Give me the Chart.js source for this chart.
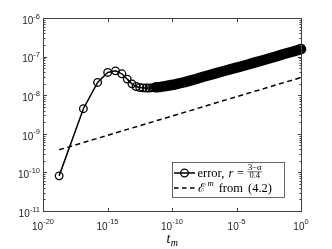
<!DOCTYPE html>
<html><head><meta charset="utf-8">
<script src="https://cdn.jsdelivr.net/npm/chart.js@4"></script>
<style>html,body{margin:0;padding:0;background:#fff}canvas{display:block}</style>
</head><body>
<div style="width:332px;height:249px"><canvas id="c" width="332" height="249"></canvas></div>
<script>
// time levels t_m
const tValues = [1.78e-19,1.35e-17,1.71e-16,1.03e-15,4.16e-15,1.30e-14,3.40e-14,7.83e-14,1.64e-13,3.16e-13,
  5.74e-13,9.89e-13,1.63e-12,2.59e-12,3.99e-12,5.97e-12,8.71e-12,1.24e-11,1.74e-11,2.40e-11,
  5.77e-11,1.24e-10,3.03e-10,7.96e-10,1.83e-9,7.40e-9,2.31e-8,6.05e-8,2.04e-7,5.62e-7,
  1.76e-6,7.10e-6,2.21e-5,7.76e-5,2.79e-4,9.79e-4,3.26e-3,1.32e-2,4.11e-2,0.108,0.248,0.518,1];
// error values
const errValues = [8.13e-11,4.47e-9,2.14e-8,3.89e-8,4.27e-8,3.59e-8,2.61e-8,1.97e-8,1.68e-8,1.585e-8,
  1.55e-8,1.53e-8,1.53e-8,1.55e-8,1.585e-8,1.60e-8,1.62e-8,1.64e-8,1.67e-8,1.70e-8,
  1.78e-8,1.86e-8,2.00e-8,2.14e-8,2.32e-8,2.63e-8,2.95e-8,3.24e-8,3.63e-8,3.98e-8,
  4.42e-8,5.01e-8,5.56e-8,6.24e-8,7.08e-8,7.94e-8,8.91e-8,1.02e-7,1.15e-7,1.26e-7,1.36e-7,1.46e-7,1.57e-7];
// bound E^m from (4.2)
const boundT = [1.78e-19,1e-15,1e-10,1e-5,1];
const boundE = [3.85e-10,9.12e-10,2.88e-9,9.12e-9,2.88e-8];
// tick exponents
const xTickExps = [-20,-15,-10,-5,0];
const yTickExps = [-11,-10,-9,-8,-7,-6];
const denseFrom = 15; // markers merge into a solid band from here on

const errPts = tValues.map((t,i)=>({x:t,y:errValues[i]}));
const bandPts = errPts.slice(denseFrom);
const boundPts = boundT.map((t,i)=>({x:t,y:boundE[i]}));

const SANS='"Liberation Sans", Arial, sans-serif';
const SERIF='"Liberation Serif", "DejaVu Serif", serif';

function pow10(ctx, exp, x, y, align, supDy){
  const es = String(exp);
  ctx.font='10px '+SANS; const w1=ctx.measureText('10').width;
  ctx.font='7.5px '+SANS; const w2=ctx.measureText(es).width;
  const tot=w1+w2;
  const x0 = align==='right' ? x-tot : x-tot/2;
  ctx.textAlign='left'; ctx.textBaseline='middle';
  ctx.font='10px '+SANS; ctx.fillText('10',x0,y);
  ctx.font='7.5px '+SANS; ctx.fillText(es,x0+w1,y+supDy);
}

const axesPlugin = {
  id:'axesPlugin',
  afterDraw(chart){
    const ctx=chart.ctx, a=chart.chartArea, xs=chart.scales.x, ys=chart.scales.y;
    const L=Math.floor(a.left)+0.5, R=Math.floor(a.right)+0.5, T=Math.floor(a.top)+0.5, B=Math.floor(a.bottom)+0.5;
    ctx.save();
    ctx.strokeStyle='#404040'; ctx.lineWidth=1;
    ctx.strokeRect(L,T,R-L,B-T);
    ctx.beginPath();
    for(let d=-11; d<=-6; d++){
      for(let k=1;k<=9;k++){
        if(d===-6 && k>1) break;
        const y=Math.round(ys.getPixelForValue(k*Math.pow(10,d)))+0.5;
        const len = k===1?3.5:2;
        ctx.moveTo(L,y); ctx.lineTo(L+len,y);
        ctx.moveTo(R,y); ctx.lineTo(R-len,y);
      }
    }
    xTickExps.forEach(e=>{
      const x=Math.round(xs.getPixelForValue(Math.pow(10,e)))+0.5;
      ctx.moveTo(x,B); ctx.lineTo(x,B-3.5);
      ctx.moveTo(x,T); ctx.lineTo(x,T+3.5);
    });
    ctx.stroke();
    ctx.fillStyle='#262626';
    yTickExps.forEach(e=>{
      const y=ys.getPixelForValue(Math.pow(10,e));
      pow10(ctx,e,40,y+3,'right',-4.5);
    });
    xTickExps.forEach(e=>{
      const x=xs.getPixelForValue(Math.pow(10,e));
      pow10(ctx,e,x,a.bottom+16,'center',-5.5);
    });
    ctx.fillStyle='#000';
    ctx.textBaseline='alphabetic'; ctx.textAlign='left';
    ctx.font='italic 14px '+SERIF; const wt=ctx.measureText('t').width;
    ctx.font='italic 10px '+SERIF; const wm=ctx.measureText('m').width;
    const cx=(a.left+a.right)/2, x0=cx-(wt+wm)/2;
    ctx.font='italic 14px '+SERIF; ctx.fillText('t',x0,243);
    ctx.font='italic 10px '+SERIF; ctx.fillText('m',x0+wt+0.5,246);
    drawLegend(ctx);
    ctx.restore();
  }
};

function legendRows(ctx, s, draw){
  const base1=176.5, base2=191.5, barY=171.5;
  let x=197.5;
  const put=(txt,font,dx,y)=>{ctx.font=font; if(draw) ctx.fillText(txt,x,y); x+=ctx.measureText(txt).width+dx;};
  put('error,', s+'px '+SERIF, 0.33*s, base1);
  put('r', 'italic '+s+'px '+SERIF, 0.28*s, base1);
  put('=', s+'px '+SERIF, 0.28*s, base1);
  ctx.font=(0.68*s)+'px '+SERIF;
  const fn=ctx.measureText('3\u2212\u03b1').width, fd=ctx.measureText('0.4').width, f=Math.max(fn,fd)+1;
  if(draw){
    ctx.fillText('3\u2212\u03b1',x+(f-fn)/2,barY-1.2);
    ctx.fillText('0.4',x+(f-fd)/2,barY+6);
    ctx.lineWidth=0.6; ctx.beginPath(); ctx.moveTo(x,barY+0.3); ctx.lineTo(x+f,barY+0.3); ctx.stroke();
  }
  const r1=x+f-197.5;
  x=197.5;
  put('\u2130', s+'px '+SERIF, 0.15*s, base2);
  put('m', 'italic '+(0.7*s)+'px '+SERIF, 0.4*s, base2-0.42*s);
  put('from', s+'px '+SERIF, 0.4*s, base2);
  put('(4.2)', s+'px '+SERIF, 0, base2);
  const r2=x-197.5;
  return Math.max(r1,r2);
}

function drawLegend(ctx){
  const bx=172.5, by=162.5, bw=112, bh=35;
  ctx.fillStyle='#fff'; ctx.fillRect(bx,by,bw,bh);
  ctx.strokeStyle='#404040'; ctx.lineWidth=0.8; ctx.strokeRect(bx,by,bw,bh);
  const y1=173, y2=188;
  ctx.strokeStyle='#000'; ctx.lineWidth=1.5; ctx.setLineDash([]);
  ctx.beginPath(); ctx.moveTo(174,y1); ctx.lineTo(195,y1); ctx.stroke();
  ctx.lineWidth=1.3; ctx.beginPath(); ctx.arc(184.5,y1,3.8,0,2*Math.PI); ctx.stroke();
  ctx.lineWidth=1.5; ctx.setLineDash([4.5,3.5]);
  ctx.beginPath(); ctx.moveTo(174,y2); ctx.lineTo(195,y2); ctx.stroke();
  ctx.setLineDash([]);
  const w=legendRows(ctx,10,false);
  const s=Math.min(12.5, 10*81/w);
  ctx.fillStyle='#000'; ctx.strokeStyle='#000'; ctx.textAlign='left'; ctx.textBaseline='alphabetic';
  legendRows(ctx,s,true);
}

new Chart(document.getElementById('c'),{
  type:'scatter',
  data:{datasets:[
    {label:'error', data:errPts, showLine:true, borderColor:'#000', borderWidth:1.5,
     pointRadius:3.8, pointBorderWidth:1.3, pointBorderColor:'#000', pointBackgroundColor:'rgba(0,0,0,0)', clip:false},
    {label:'band', data:bandPts, showLine:true, borderColor:'#000', borderWidth:10.5, pointRadius:0,
     borderCapStyle:'round', borderJoinStyle:'round', clip:false},
    {label:'bound', data:boundPts, showLine:true, borderColor:'#000', borderWidth:1.5, borderDash:[5,3.5], pointRadius:0}
  ]},
  options:{
    responsive:false, animation:false, devicePixelRatio:1, events:[],
    layout:{padding:{left:43,right:31,top:18,bottom:38}},
    scales:{
      x:{type:'logarithmic',min:1e-20,max:1,display:false},
      y:{type:'logarithmic',min:1e-11,max:1e-6,display:false}
    },
    plugins:{legend:{display:false},tooltip:{enabled:false}}
  },
  plugins:[axesPlugin]
});
</script>
</body></html>
